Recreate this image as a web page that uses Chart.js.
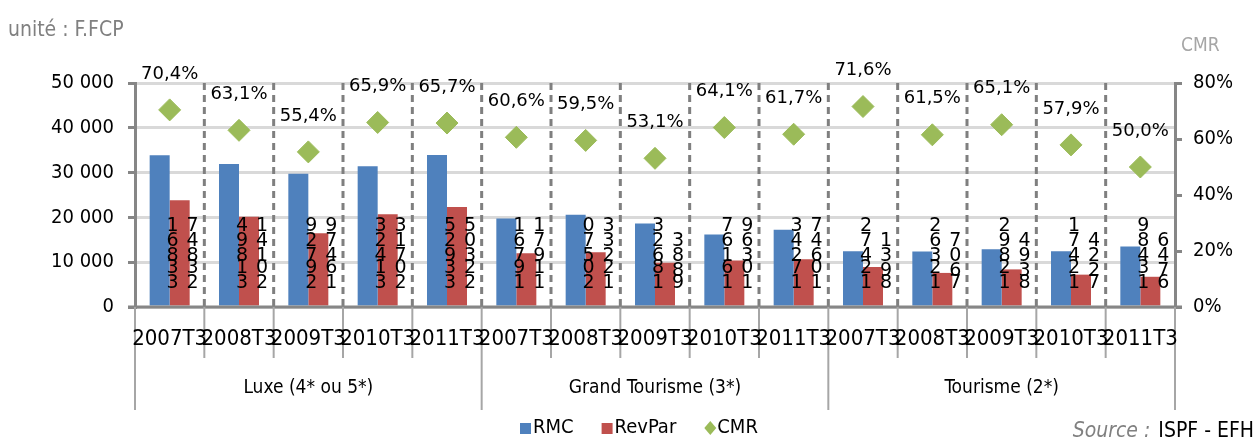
<!DOCTYPE html>
<html lang="fr">
<head>
<meta charset="UTF-8">
<title>RMC / RevPar / CMR</title>
<script src="https://cdn.jsdelivr.net/npm/chart.js"></script>
<style>
  html, body { margin: 0; padding: 0; background: #fff; }
  #wrap { width: 1258px; height: 443px; position: relative; }
</style>
</head>
<body>
<div id="wrap"><canvas id="chart"></canvas></div>
<script>
const periods = ['2007T3', '2008T3', '2009T3', '2010T3', '2011T3'];
const groups = ['Luxe (4* ou 5*)', 'Grand Tourisme (3*)', 'Tourisme (2*)'];
const rmc = [33861, 31894, 29729, 31423, 33925, 19761, 20570, 18623, 16167, 17243, 12472, 12362, 12892, 12471, 13489];
const revpar = [23847, 20141, 16479, 20713, 22305, 11971, 12233, 9883, 10369, 10647, 8931, 7607, 8394, 7224, 6746];
const cmr = [70.4, 63.1, 55.4, 65.9, 65.7, 60.6, 59.5, 53.1, 64.1, 61.7, 71.6, 61.5, 65.1, 57.9, 50.0];
const leftTicks = [0, 10000, 20000, 30000, 40000, 50000];
const rightTicks = [0, 20, 40, 60, 80];

const labels = [];
groups.forEach(() => periods.forEach(p => labels.push(p)));

const BLUE = '#4f81bd', RED = '#c0504d', GREEN = '#9bbb59', AXIS = '#868686';
const NARROW = '"Liberation Sans Narrow", "DejaVu Sans Condensed", sans-serif';
const WIDE = '"DejaVu Sans", sans-serif';

function fmt(n) {
  return String(n).replace(/\B(?=(\d{3})+(?!\d))/g, ' ');
}

const decor = {
  id: 'decor',
  beforeDatasetsDraw(chart) {
    const { ctx, chartArea: a, scales: { x } } = chart;
    ctx.save();
    ctx.strokeStyle = '#7f7f7f';
    ctx.lineWidth = 3;
    ctx.setLineDash([7, 5]);
    for (let i = 0; i < labels.length - 1; i++) {
      const bx = (x.getPixelForValue(i) + x.getPixelForValue(i + 1)) / 2;
      ctx.beginPath();
      ctx.moveTo(bx, a.top);
      ctx.lineTo(bx, a.bottom);
      ctx.stroke();
    }
    ctx.restore();
  },
  afterDatasetsDraw(chart) {
    const { ctx, chartArea: a, scales: { x, y } } = chart;
    ctx.save();
    // bottom axis
    ctx.strokeStyle = AXIS;
    ctx.lineWidth = 3;
    ctx.beginPath();
    ctx.moveTo(a.left - 7, a.bottom);
    ctx.lineTo(a.right + 7, a.bottom);
    ctx.stroke();

    // stacked digit labels inside bars
    ctx.fillStyle = '#000';
    ctx.font = '19px ' + WIDE;
    ctx.textAlign = 'center';
    ctx.textBaseline = 'middle';
    [0, 1].forEach(di => {
      const meta = chart.getDatasetMeta(di);
      const vals = chart.data.datasets[di].data;
      meta.data.forEach((bar, i) => {
        const s = fmt(vals[i]);
        let yy = y.getPixelForValue(0) - 24;
        for (const ch of s) {
          if (ch === ' ') { yy += 3; continue; }
          ctx.fillText(ch, bar.x + 13, yy);
          yy -= 15;
        }
      });
    });

    // CMR labels
    const pm = chart.getDatasetMeta(2);
    ctx.font = '18px ' + WIDE;
    pm.data.forEach((pt, i) => {
      ctx.fillText(cmr[i].toFixed(1).replace('.', ',') + '%', pt.x, pt.y - 36);
    });

    // x category ticks and labels
    const step = x.getPixelForValue(1) - x.getPixelForValue(0);
    ctx.strokeStyle = '#a6a6a6';
    ctx.lineWidth = 2;
    for (let i = 0; i <= labels.length; i++) {
      const bx = x.getPixelForValue(0) - step / 2 + i * step;
      const isGroup = i % periods.length === 0;
      ctx.beginPath();
      ctx.moveTo(bx, a.bottom);
      ctx.lineTo(bx, isGroup ? a.bottom + 103 : a.bottom + 51);
      ctx.stroke();
    }
    ctx.fillStyle = '#000';
    ctx.font = '22px ' + NARROW;
    labels.forEach((l, i) => ctx.fillText(l, x.getPixelForValue(i), a.bottom + 32));
    ctx.font = '19px ' + NARROW;
    groups.forEach((g, gi) => {
      const cx = (x.getPixelForValue(gi * 5) + x.getPixelForValue(gi * 5 + 4)) / 2;
      ctx.fillText(g, cx, a.bottom + 81);
    });

    // legend
    ctx.font = '20px ' + NARROW;
    ctx.textAlign = 'left';
    const ly = 428;
    let lx = 520;
    chart.data.datasets.forEach(ds => {
      ctx.fillStyle = ds.backgroundColor;
      if (ds.type === 'line') {
        ctx.beginPath();
        ctx.moveTo(lx + 6, ly - 7);
        ctx.lineTo(lx + 12, ly);
        ctx.lineTo(lx + 6, ly + 7);
        ctx.lineTo(lx, ly);
        ctx.closePath();
        ctx.fill();
      } else {
        ctx.fillRect(lx, ly - 5, 11, 11);
      }
      ctx.fillStyle = '#000';
      ctx.fillText(ds.label, lx + 13, ly);
      lx += 13 + ctx.measureText(ds.label).width + 28;
    });

    // texts
    ctx.fillStyle = '#808080';
    ctx.font = '21px ' + NARROW;
    ctx.fillText('unité : F.FCP', 8, 31);
    ctx.fillStyle = '#a6a6a6';
    ctx.font = '19px ' + NARROW;
    ctx.fillText('CMR', 1181, 46);
    ctx.textAlign = 'right';
    ctx.fillStyle = '#000';
    ctx.font = '21px ' + NARROW;
    ctx.fillText('ISPF - EFH', 1254, 432);
    const w = ctx.measureText('ISPF - EFH').width;
    ctx.fillStyle = '#808080';
    ctx.font = 'italic 21px ' + NARROW;
    ctx.fillText('Source : ', 1254 - w - 2, 432);
    ctx.restore();
  }
};

new Chart(document.getElementById('chart'), {
  type: 'bar',
  data: {
    labels: labels,
    datasets: [
      { label: 'RMC', data: rmc, backgroundColor: BLUE, yAxisID: 'y', order: 2,
        categoryPercentage: 0.577, barPercentage: 1.0 },
      { label: 'RevPar', data: revpar, backgroundColor: RED, yAxisID: 'y', order: 2,
        categoryPercentage: 0.577, barPercentage: 1.0 },
      { type: 'line', label: 'CMR', data: cmr, backgroundColor: GREEN, borderColor: GREEN,
        showLine: false, pointStyle: 'rectRot', pointRadius: 11, pointHoverRadius: 11,
        yAxisID: 'y1', order: 1 }
    ]
  },
  options: {
    responsive: true,
    maintainAspectRatio: false,
    animation: false,
    layout: { padding: { top: 83, bottom: 136, left: 0, right: 0 } },
    plugins: { legend: { display: false }, tooltip: { enabled: false } },
    scales: {
      x: { display: false },
      y: {
        position: 'left', min: 0, max: 50000,
        afterFit(s) { s.width = 135; },
        afterBuildTicks(s) { s.ticks = leftTicks.map(v => ({ value: v })); },
        ticks: { color: '#000', font: { size: 20, family: NARROW }, padding: 14,
          callback: v => fmt(v) },
        grid: { color: '#d9d9d9', lineWidth: 3, tickColor: AXIS, tickLength: 7 },
        border: { color: AXIS, width: 3 }
      },
      y1: {
        position: 'right', min: 0, max: 80,
        afterFit(s) { s.width = 83; },
        afterBuildTicks(s) { s.ticks = rightTicks.map(v => ({ value: v })); },
        ticks: { color: '#000', font: { size: 20, family: NARROW }, padding: 11,
          callback: v => v + '%' },
        grid: { drawOnChartArea: false, lineWidth: 3, tickColor: AXIS, tickLength: 7 },
        border: { color: AXIS, width: 3 }
      }
    }
  },
  plugins: [decor]
});
</script>
</body>
</html>
